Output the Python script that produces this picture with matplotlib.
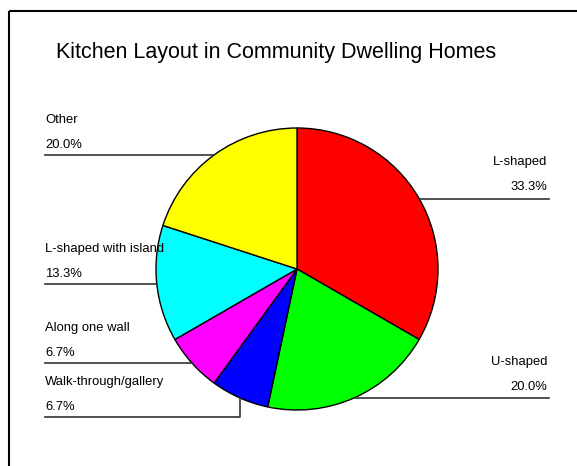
import numpy as np
import matplotlib
matplotlib.use("Agg")
import matplotlib.pyplot as plt

plt.rcParams["font.family"] = ["Liberation Sans", "DejaVu Sans"]

# Survey data: kitchen layout shares (counts out of 15 homes)
categories = ["L-shaped", "U-shaped", "Walk-through/gallery",
              "Along one wall", "L-shaped with island", "Other"]
counts = [5, 3, 1, 1, 2, 3]
colors = ["#ff0000", "#00ff00", "#0000ff", "#ff00ff", "#00ffff", "#ffff00"]
title = "Kitchen Layout in Community Dwelling Homes"

W, H = 577, 466
fig = plt.figure(figsize=(W / 100, H / 100), dpi=100)
ax = fig.add_axes([0, 0, 1, 1])

# Pixel-like coordinate system (y measured upward)
cx, cy, r = 297, H - 269, 141
wedges, _ = ax.pie(counts, colors=colors, startangle=90, counterclock=False,
                   center=(cx, cy), radius=r,
                   wedgeprops=dict(edgecolor="black", linewidth=1.0))
ax.set_xlim(0, W)
ax.set_ylim(0, H)
ax.set_aspect("auto")
ax.axis("off")

# Outer frame (open on the right and bottom)
ax.plot([9, 9], [0, H - 11], color="black", lw=1.5, solid_capstyle="butt")
ax.plot([9, W], [H - 11, H - 11], color="black", lw=1.5, solid_capstyle="butt")

ax.text(276, H - 58, title, ha="center", va="baseline", fontsize=15.5)

total = sum(counts)
left_x, right_x = 45, 549
min_gap = 54
line_col = "#333333"

# Anchor points on the rim at each wedge's mid angle
anchors = []
for w, name, c in zip(wedges, categories, counts):
    mid = np.deg2rad((w.theta1 + w.theta2) / 2)
    ax_x = cx + r * np.cos(mid)
    ax_y = cy + r * np.sin(mid)
    anchors.append((name, c, ax_x, ax_y))

left = sorted([a for a in anchors if a[2] < cx], key=lambda a: -a[3])
right = sorted([a for a in anchors if a[2] >= cx], key=lambda a: -a[3])

def place(group, side):
    prev = None
    for name, c, x0, y0 in group:
        ly = y0
        if prev is not None and prev - ly < min_gap:
            ly = prev - min_gap
        prev = ly
        pct = f"{100 * c / total:.1f}%"
        if side == "left":
            xs = [left_x, x0, x0] if ly != y0 else [left_x, x0]
            ys = [ly, ly, y0] if ly != y0 else [ly, ly]
            ax.plot(xs, ys, color=line_col, lw=1.2)
            ax.text(left_x, ly + 32, name, ha="left", va="baseline", fontsize=9.4)
            ax.text(left_x, ly + 7, pct, ha="left", va="baseline", fontsize=9.4)
        else:
            xs = [x0, x0, right_x] if ly != y0 else [x0, right_x]
            ys = [y0, ly, ly] if ly != y0 else [ly, ly]
            ax.plot(xs, ys, color=line_col, lw=1.2)
            ax.text(right_x - 2, ly + 33, name, ha="right", va="baseline", fontsize=9.4)
            ax.text(right_x - 2, ly + 8, pct, ha="right", va="baseline", fontsize=9.4)

place(left, "left")
place(right, "right")

fig.savefig("out.png", dpi=100)
